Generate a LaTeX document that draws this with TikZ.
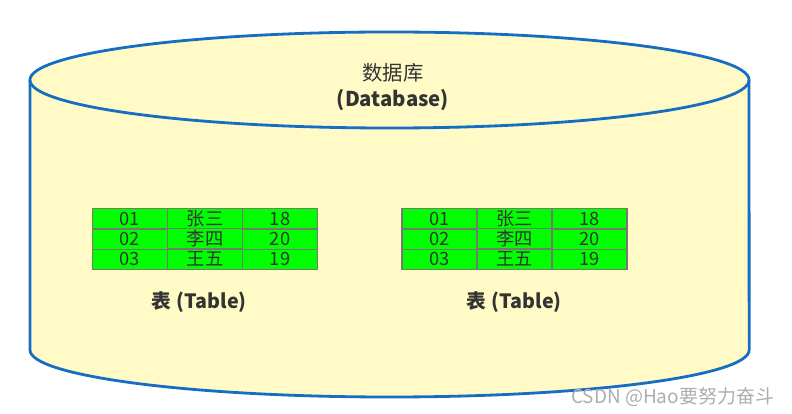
\documentclass[tikz,border=0pt]{standalone}
\usepackage{fontspec}
\setmainfont{Noto Sans CJK SC}
\usetikzlibrary{matrix}

\definecolor{dbBlue}{RGB}{22,110,195}
\definecolor{dbFill}{RGB}{255,250,198}
\definecolor{cellGreen}{RGB}{0,255,0}
\definecolor{cellLine}{RGB}{120,120,110}

\begin{document}
\begin{tikzpicture}[
  x=0.025cm, y=0.025cm,
  dbLine/.style={draw=dbBlue, line width=2pt, line join=round},
  cell/.style={
    draw=cellLine, line width=1pt, fill=cellGreen,
    minimum width=1.875cm, minimum height=0.5cm, inner sep=0pt,
    font=\fontsize{13}{13}\selectfont, text=black!80
  },
  tabGrid/.style={matrix of nodes, nodes={cell}, column sep=-1pt, row sep=-1pt, inner sep=0pt},
  tabLabel/.style={font=\fontsize{14}{14}\selectfont\bfseries, text=black!80},
  dbLabel/.style={font=\fontsize{14.5}{19}\selectfont, text=black!80, align=center}
]
\useasboundingbox (0,0) rectangle (792,414);

% cylinder
\fill[dbFill] (30,334) -- (30,64)
  arc[start angle=180, end angle=360, x radius=8.9875cm, y radius=1.175cm]
  -- (749,334)
  arc[start angle=0, end angle=180, x radius=8.9875cm, y radius=1.2cm] -- cycle;
\draw[dbLine] (30,334) -- (30,64)
  arc[start angle=180, end angle=360, x radius=8.9875cm, y radius=1.175cm]
  -- (749,334);
\draw[dbLine] (389.5,334) ellipse[x radius=8.9875cm, y radius=1.2cm];

\node[dbLabel] (db) at (393,327) {数据库\\\bfseries(Database)};

% tables
\matrix[tabGrid] (tabA) at (205,175) {
  01 & 张三 & 18 \\
  02 & 李四 & 20 \\
  03 & 王五 & 19 \\
};
\matrix[tabGrid] (tabB) at (514.5,175) {
  01 & 张三 & 18 \\
  02 & 李四 & 20 \\
  03 & 王五 & 19 \\
};

\node[tabLabel] (labA) at (199,112) {表\hspace{4pt}(Table)};
\node[tabLabel] (labB) at (514,112) {表\hspace{4pt}(Table)};

\node[anchor=east, text=black!32, font=\fontsize{13.5}{14}\selectfont] (wm) at (779,17) {CSDN @Hao要努力奋斗};
\end{tikzpicture}
\end{document}
